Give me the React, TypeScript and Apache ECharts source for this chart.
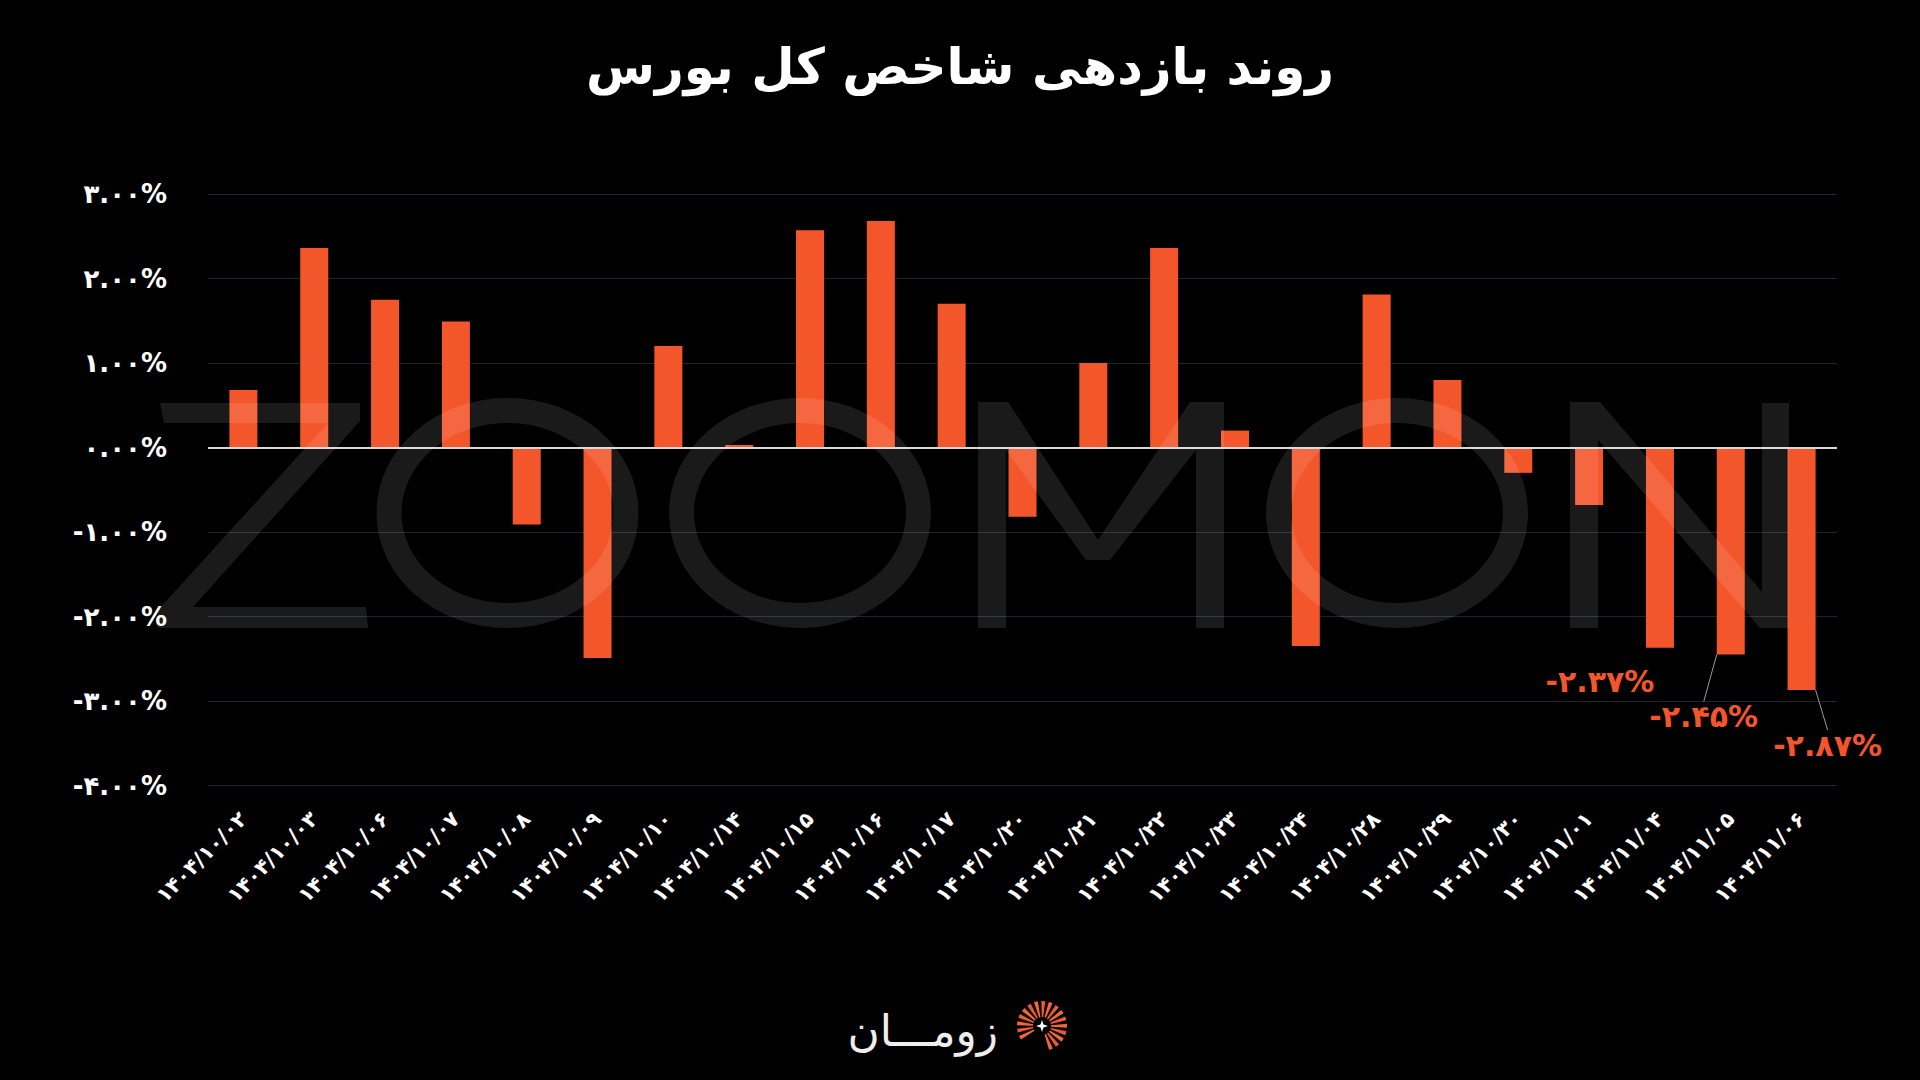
import React, { useEffect, useRef } from "react";
import * as echarts from "echarts";

const categories = [
  "۱۴۰۴/۱۰/۰۲", "۱۴۰۴/۱۰/۰۳", "۱۴۰۴/۱۰/۰۶", "۱۴۰۴/۱۰/۰۷", "۱۴۰۴/۱۰/۰۸",
  "۱۴۰۴/۱۰/۰۹", "۱۴۰۴/۱۰/۱۰", "۱۴۰۴/۱۰/۱۴", "۱۴۰۴/۱۰/۱۵", "۱۴۰۴/۱۰/۱۶",
  "۱۴۰۴/۱۰/۱۷", "۱۴۰۴/۱۰/۲۰", "۱۴۰۴/۱۰/۲۱", "۱۴۰۴/۱۰/۲۲", "۱۴۰۴/۱۰/۲۳",
  "۱۴۰۴/۱۰/۲۴", "۱۴۰۴/۱۰/۲۸", "۱۴۰۴/۱۰/۲۹", "۱۴۰۴/۱۰/۳۰", "۱۴۰۴/۱۱/۰۱",
  "۱۴۰۴/۱۱/۰۴", "۱۴۰۴/۱۱/۰۵", "۱۴۰۴/۱۱/۰۶",
];

const values = [
  0.68, 2.36, 1.75, 1.49, -0.91,
  -2.49, 1.2, 0.03, 2.57, 2.68,
  1.7, -0.82, 1.0, 2.36, 0.2,
  -2.35, 1.81, 0.8, -0.3, -0.68,
  -2.37, -2.45, -2.87,
];

const yMin = -4;
const yMax = 3;
const yInterval = 1;

const labeledIndices = [20, 21, 22];
const leaderLineIndices = [21, 22];

const titleText = "روند بازدهی شاخص کل بورس";
const logoText = "زومـــان";

const FA_DIGITS = "۰۱۲۳۴۵۶۷۸۹";
const toFa = (s: string) => s.replace(/[0-9]/g, (d) => FA_DIGITS[+d]);

const FONT = "'DejaVu Sans', 'Noto Sans', sans-serif";
const BAR = "#F4562B";
const WM = "rgba(255,255,255,0.1)";

// label offsets relative to bar end (layout only)
const labelShift: Record<number, [number, number]> = {
  20: [-60, 34],
  21: [-27, 62],
  22: [26, 55],
};

function buildLogoRays() {
  const els: any[] = [];
  const cx = 1042;
  const cy = 1026;
  const start = 152;
  const step = 17.3;
  const n = 17;
  for (let i = 0; i < n; i++) {
    const a = start + i * step;
    els.push({
      type: "sector",
      silent: true,
      shape: {
        cx,
        cy,
        r0: 9,
        r: 25,
        startAngle: ((a - 4.6) * Math.PI) / 180,
        endAngle: ((a + 4.6) * Math.PI) / 180,
      },
      style: { fill: i % 2 === 0 ? "#F2673A" : "#EE5A30" },
    });
  }
  els.push({
    type: "polygon",
    silent: true,
    shape: {
      points: [
        [cx, cy - 6], [cx + 1.5, cy - 1.5], [cx + 6, cy], [cx + 1.5, cy + 1.5],
        [cx, cy + 6], [cx - 1.5, cy + 1.5], [cx - 6, cy], [cx - 1.5, cy - 1.5],
      ],
    },
    style: { fill: "#ffffff" },
  });
  return els;
}

function buildWatermark() {
  const base = { silent: true, z: 100 };
  const ell = (cx: number) => ({
    ...base,
    type: "ellipse",
    shape: { cx, cy: 513, rx: 118.5, ry: 102.5 },
    style: { fill: "none", stroke: WM, lineWidth: 25 },
  });
  return [
    {
      ...base,
      type: "polygon",
      shape: {
        points: [
          [160, 403], [360, 403], [360, 421], [193, 607], [366, 607],
          [368, 628], [158, 628], [158, 610], [328, 423], [164, 423],
        ],
      },
      style: { fill: WM },
    },
    ell(507.5),
    ell(800),
    {
      ...base,
      type: "polygon",
      shape: {
        points: [
          [978, 628], [978, 402], [1008, 402], [1098, 540], [1190, 402],
          [1224, 402], [1224, 628], [1196, 628], [1196, 450], [1110, 560],
          [1086, 560], [1006, 450], [1006, 628],
        ],
      },
      style: { fill: WM },
    },
    ell(1397),
    {
      ...base,
      type: "polygon",
      shape: {
        points: [
          [1570, 628], [1570, 402], [1600, 402], [1762, 592], [1762, 403],
          [1789, 403], [1789, 628], [1760, 628], [1598, 440], [1598, 628],
        ],
      },
      style: { fill: WM },
    },
  ];
}

export default function App() {
  const ref = useRef<HTMLDivElement>(null);

  useEffect(() => {
    document.body.style.margin = "0";
    document.body.style.background = "#000";
    const chart = echarts.init(ref.current!, undefined, { renderer: "svg" });

    const seriesData = values.map((v, i) => {
      if (labeledIndices.includes(i)) {
        return {
          value: v,
          label: { show: true },
          labelLine: { show: leaderLineIndices.includes(i) },
        };
      }
      return v;
    });

    const option: any = {
      animation: false,
      backgroundColor: "#000000",
      grid: { left: 208, right: 83, top: 194, bottom: 294.5, containLabel: false },
      xAxis: {
        type: "category",
        data: categories,
        axisLine: { show: false },
        axisTick: { show: false },
        splitLine: { show: false },
        axisLabel: {
          interval: 0,
          rotate: 45,
          margin: 30,
          color: "#ffffff",
          fontSize: 21,
          fontWeight: "bold",
          fontFamily: FONT,
        },
      },
      yAxis: {
        type: "value",
        min: yMin,
        max: yMax,
        interval: yInterval,
        axisLine: { show: false },
        axisTick: { show: false },
        splitLine: { show: true, lineStyle: { color: "#1c252b", width: 1 } },
        axisLabel: {
          margin: 41,
          color: "#ffffff",
          fontSize: 26,
          fontWeight: "bold",
          fontFamily: FONT,
          formatter: (v: number) => toFa(v.toFixed(2)) + "%",
        },
      },
      series: [
        {
          type: "bar",
          data: seriesData,
          barWidth: 28,
          itemStyle: { color: BAR },
          label: {
            show: false,
            position: "bottom",
            color: BAR,
            fontSize: 30,
            fontWeight: "bold",
            fontFamily: FONT,
            formatter: (p: any) => toFa(Number(p.value).toFixed(2)) + "%",
          },
          labelLine: { show: false, lineStyle: { color: "#9a9a9a", width: 1 } },
          labelLayout: (params: any) => {
            const s = labelShift[params.dataIndex];
            if (!s) return {};
            const r = params.rect;
            const cx = r.x + r.width / 2;
            const bottom = Math.max(r.y, r.y + r.height);
            return {
              x: cx + s[0],
              y: bottom + s[1],
              align: "center",
              verticalAlign: "middle",
            };
          },
          markLine: {
            silent: true,
            symbol: ["none", "none"],
            label: { show: false },
            lineStyle: { color: "#d9d9d9", width: 2, type: "solid" },
            data: [{ yAxis: 0 }],
          },
        },
      ],
      graphic: [
        {
          type: "text",
          silent: true,
          x: 960,
          y: 67,
          style: {
            text: titleText,
            fill: "#ffffff",
            fontSize: 50,
            fontWeight: "bold",
            fontFamily: FONT,
            align: "center",
            verticalAlign: "middle",
            textAlign: "center",
            textVerticalAlign: "middle",
          },
        },
        {
          type: "text",
          silent: true,
          x: 998,
          y: 1030,
          style: {
            text: logoText,
            fill: "#eeeeee",
            fontSize: 44,
            fontWeight: "normal",
            fontFamily: FONT,
            align: "right",
            verticalAlign: "middle",
            textAlign: "right",
            textVerticalAlign: "middle",
          },
        },
        ...buildLogoRays(),
        ...buildWatermark(),
      ],
    };

    chart.setOption(option);
    return () => chart.dispose();
  }, []);

  return (
    <div
      ref={ref}
      style={{ position: "absolute", left: 0, top: 0, width: 1920, height: 1080 }}
    />
  );
}
